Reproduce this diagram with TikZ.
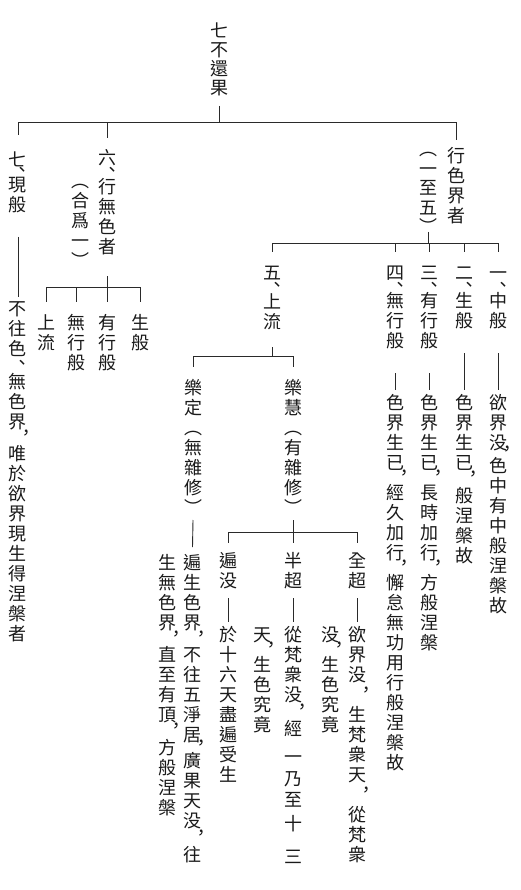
\documentclass[tikz,border=0pt]{standalone}
\usepackage{fontspec}
\setmainfont{Noto Sans CJK TC}
\definecolor{txt}{HTML}{1A1A1A}
\definecolor{linec}{HTML}{2A2A2A}
% ---------- vertical text machinery ----------
\newdimen\vtpitch
\newdimen\vtsave
\def\vtC{vtC}\def\vtD{vtD}\def\vtK{vtK}\def\vtend{vtend}
\newcommand\vtext[2][20]{\vbox{\vtpitch=#1pt\relax\baselineskip=\vtpitch\lineskip=0pt\lineskiplimit=-\maxdimen\vtloop#2\vtend}}
\def\vtloop#1{%
  \ifx\vtend#1\let\vtnext\relax
  \else\ifx\vtC#1\let\vtnext\vtdoC
  \else\ifx\vtD#1\let\vtnext\vtdoD
  \else\ifx\vtK#1\let\vtnext\vtdoK
  \else\vtchar{#1}\let\vtnext\vtloop
  \fi\fi\fi\fi\vtnext}
\def\vtchar#1{\hbox to 18pt{\hss#1\hss\vrule height 15.84pt depth 2.16pt width 0pt}}
% #1 glyph, #2 extra space, #3 horizontal shift, #4 base lowering
\def\vtpunct#1#2#3#4{%
  \vtsave=\prevdepth
  \vskip #2pt\relax
  \nointerlineskip
  \setbox0=\hbox to 0pt{\kern#3\lower\dimexpr #4-#2pt/2\relax\hbox{#1}\hss}%
  \ht0=0pt \dp0=0pt \box0
  \prevdepth=\vtsave}
\def\vtdoC#1{\vtpunct{，}{#1}{9pt}{2.2pt}\vtloop}
\def\vtdoD#1{\vtpunct{、}{#1}{5pt}{5.2pt}\vtloop}
\def\vtdoK#1{\vskip #1pt\relax\vtloop}
\begin{document}
\begin{tikzpicture}[x=1pt,y=1pt,
  vt/.style={inner sep=0pt,outer sep=0pt,anchor=north,text=txt,font=\fontsize{18pt}{20pt}\selectfont},
  conn/.style={draw=linec,line width=0.9pt}]
\fill[white] (0,0) rectangle (520,-890);
\useasboundingbox (0,0) rectangle (520,-890);
% root
\node[vt] (root) at (219,-22) {\vtext[19]{七不還果}};
% level 1
\node[vt] (c7)  at (18,-151)  {\vtext{七\vtD{5}現般}};
\node[vt] (c7d) at (18,-300)  {\vtext{不往色\vtD{13}無色界\vtC{12}唯於欲界現生得涅槃者}};
\node[vt] (c6)  at (107.5,-149) {\vtext{六\vtD{9}行無色者}};
\node[vt] (c6p) at (80,-172)  {\vtext{︵合爲一︶}};
\node[vt] (cR)  at (456,-147) {\vtext{行色界者}};
\node[vt] (cRp) at (428.5,-140) {\vtext[19.5]{︵一至五︶}};
% children of six
\node[vt] (c6a) at (46,-314)  {\vtext{上流}};
\node[vt] (c6b) at (76,-314)  {\vtext{無行般}};
\node[vt] (c6c) at (107.5,-314) {\vtext{有行般}};
\node[vt] (c6d) at (140,-314) {\vtext{生般}};
% children of form realm
\node[vt] (c5) at (272,-264) {\vtext{五\vtD{9}上流}};
\node[vt] (c4) at (395,-264) {\vtext{四\vtD{8}無行般}};
\node[vt] (c3) at (429,-264) {\vtext{三\vtD{8}有行般}};
\node[vt] (c2) at (464,-264) {\vtext{二\vtD{8}生般}};
\node[vt] (c1) at (498,-264) {\vtext{一\vtD{8}中般}};
\node[vt] (c4d) at (395,-394) {\vtext{色界生已\vtC{10}經久加行\vtC{10}懈怠無功用行般涅槃故}};
\node[vt] (c3d) at (429,-394) {\vtext{色界生已\vtC{10}長時加行\vtC{10}方般涅槃}};
\node[vt] (c2d) at (464,-394) {\vtext{色界生已\vtC{13}般涅槃故}};
\node[vt] (c1d) at (498,-394) {\vtext{欲界没\vtC{3}色中有中般涅槃故}};
% upstream
\node[vt] (c5a) at (193,-379) {\vtext{樂定︵無雜修︶}};
\node[vt] (c5b) at (293,-379) {\vtext{樂慧︵有雜修︶}};
\node[vt] (c5ad1) at (192.5,-554) {\vtext{遍生色界\vtC{12}不往五淨居\vtC{6}廣果天没\vtC{14}往}};
\node[vt] (c5ad2) at (167,-554) {\vtext{生無色界\vtC{12}直至有頂\vtC{13}方般涅槃}};
\node[vt] (c5b1) at (228,-552) {\vtext{遍没}};
\node[vt] (c5b2) at (293,-552) {\vtext{半超}};
\node[vt] (c5b3) at (357,-552) {\vtext{全超}};
\node[vt] (c5b1d) at (228,-626) {\vtext{於十六天盡遍受生}};
\node[vt] (c5b2d1) at (293,-626) {\vtext{從梵衆没\vtC{14}經\vtK{8}一\vtK{2}乃\vtK{1}至\vtK{4}十\vtK{13}三}};
\node[vt] (c5b2d2) at (262,-626) {\vtext{天\vtC{10}生色究竟}};
\node[vt] (c5b3d1) at (357,-626) {\vtext{欲界没\vtC{20}生梵衆天\vtC{20}從梵衆}};
\node[vt] (c5b3d2) at (330,-626) {\vtext{没\vtC{10}生色究竟}};
% ---------- connectors ----------
\draw[conn] (root.south) ++(0,-9) -- ++(0,-16) -| ([yshift=16]c7.north);
\draw[conn] (root.south) ++(0,-25) -| ([yshift=11]c6.north);
\draw[conn] (root.south) ++(0,-25) -| ([yshift=7]cR.north);
\draw[conn] (c7.south) ++(0,-23) -- ([yshift=3]c7d.north);
\draw[conn] (c6.south) ++(0,-20) -- ++(0,-11) -| ([yshift=12]c6a.north);
\draw[conn] (c6.south) ++(0,-31) -| ([yshift=12]c6b.north);
\draw[conn] (c6.south) ++(0,-31) -| ([yshift=12]c6c.north);
\draw[conn] (c6.south) ++(0,-31) -| ([yshift=12]c6d.north);
\draw[conn] (cRp.south) ++(0,4) -- ++(0,-11) -| ([yshift=12]c5.north);
\draw[conn] (cRp.south) ++(0,-7) -| ([yshift=12]c4.north);
\draw[conn] (cRp.south) ++(0,-7) -| ([yshift=12]c3.north);
\draw[conn] (cRp.south) ++(0,-7) -| ([yshift=12]c2.north);
\draw[conn] (cRp.south) ++(0,-7) -| ([yshift=12]c1.north);
\draw[conn] (c1.south) ++(0,-23) -- ([yshift=4]c1d.north);
\draw[conn] (c2.south) ++(0,-23) -- ([yshift=4]c2d.north);
\draw[conn] (c3.south) ++(0,-23) -- ([yshift=4]c3d.north);
\draw[conn] (c4.south) ++(0,-23) -- ([yshift=4]c4d.north);
\draw[conn] (c5.south) ++(0,-16) -- ++(0,-9) -| ([yshift=12]c5a.north);
\draw[conn] (c5.south) ++(0,-25) -| ([yshift=12]c5b.north);
\draw[conn] (c5a.south) ++(0,-3) -- ([yshift=7]c5ad1.north);
\draw[conn] (c5b.south) ++(0,-3) -- ++(0,-12) -| ([yshift=9]c5b1.north);
\draw[conn] (c5b.south) ++(0,-15) -| ([yshift=9]c5b2.north);
\draw[conn] (c5b.south) ++(0,-15) -| ([yshift=9]c5b3.north);
\draw[conn] (c5b1.south) ++(0,-8) -- ([yshift=4]c5b1d.north);
\draw[conn] (c5b2.south) ++(0,-8) -- ([yshift=4]c5b2d1.north);
\draw[conn] (c5b3.south) ++(0,-8) -- ([yshift=4]c5b3d1.north);
\end{tikzpicture}
\end{document}
